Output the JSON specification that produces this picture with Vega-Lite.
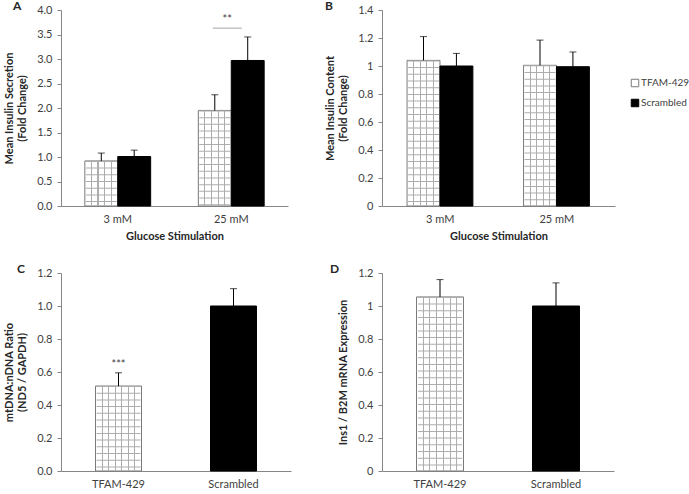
{
  "$schema": "https://vega.github.io/schema/vega-lite/v6.json",
  "padding": {"left": 3, "top": 0, "right": 0, "bottom": 0},
  "config": {
    "font": "Lato",
    "view": {"stroke": null},
    "axis": {"domainColor": "#868686", "tickColor": "#868686", "labelColor": "#404040", "labelFontSize": 11, "titleFontSize": 11, "titleFontWeight": "bold", "titleColor": "#262626", "grid": false},
    "axisY": {"tickSize": 4, "labelPadding": 5, "titlePadding": 9, "titleLineHeight": 13},
    "axisX": {"ticks": false, "labelAngle": 0, "labelPadding": 7, "titlePadding": 6},
    "legend": {"labelFontSize": 10, "labelColor": "#404040"},
    "title": {"fontSize": 12, "fontWeight": "bold", "color": "#262626", "anchor": "start", "frame": "group", "offset": -9, "baseline": "alphabetic"}
  },
  "datasets": {
    "A": [
      {"x": "3 mM", "group": "TFAM-429", "value": 0.92, "hi": 1.08},
      {"x": "3 mM", "group": "Scrambled", "value": 1.01, "hi": 1.14},
      {"x": "25 mM", "group": "TFAM-429", "value": 1.95, "hi": 2.27},
      {"x": "25 mM", "group": "Scrambled", "value": 2.97, "hi": 3.45}
    ],
    "B": [
      {"x": "3 mM", "group": "TFAM-429", "value": 1.04, "hi": 1.21},
      {"x": "3 mM", "group": "Scrambled", "value": 1.0, "hi": 1.09},
      {"x": "25 mM", "group": "TFAM-429", "value": 1.005, "hi": 1.185},
      {"x": "25 mM", "group": "Scrambled", "value": 0.995, "hi": 1.1}
    ],
    "C": [
      {"x": "TFAM-429", "group": "TFAM-429", "value": 0.515, "hi": 0.595},
      {"x": "Scrambled", "group": "Scrambled", "value": 1.0, "hi": 1.105}
    ],
    "D": [
      {"x": "TFAM-429", "group": "TFAM-429", "value": 1.055, "hi": 1.16},
      {"x": "Scrambled", "group": "Scrambled", "value": 1.0, "hi": 1.14}
    ],
    "annA": [{"x": "25 mM", "value": 3.63, "label": "**", "ly": 3.79}],
    "annC": [{"x": "TFAM-429", "label": "***", "ly": 0.645}]
  },
  "columns": 2,
  "spacing": {"row": 22, "column": 33},
  "resolve": {"scale": {"fill": "independent", "stroke": "independent"}, "legend": {"fill": "independent", "stroke": "independent"}},
  "concat": [
    {
      "width": 227, "height": 196,
      "title": {"text": "A", "dx": -48},
      "data": {"name": "A"},
      "encoding": {
        "x": {"field": "x", "type": "nominal", "scale": {"domain": ["3 mM", "25 mM"], "paddingInner": 0.42, "paddingOuter": 0.21}, "axis": {"title": "Glucose Stimulation"}},
        "y": {"field": "value", "type": "quantitative", "scale": {"domain": [0, 4], "nice": false}, "axis": {"title": ["Mean Insulin Secretion", "(Fold Change)"], "values": [0, 0.5, 1, 1.5, 2, 2.5, 3, 3.5, 4], "format": ".1f"}}
      },
      "layer": [
        {"mark": {"type": "bar", "strokeWidth": 1},
         "encoding": {
           "xOffset": {"field": "group", "type": "nominal", "scale": {"domain": ["TFAM-429", "Scrambled"], "paddingInner": 0, "paddingOuter": 0}},
           "fill": {"field": "group", "type": "nominal", "scale": {"domain": ["TFAM-429", "Scrambled"], "range": ["white", "black"]}, "legend": null},
           "stroke": {"field": "group", "type": "nominal", "scale": {"domain": ["TFAM-429", "Scrambled"], "range": ["#7a7a7a", "black"]}, "legend": null}}},
        {"transform": [{"filter": "datum.group === 'TFAM-429'"}],
         "mark": {"type": "bar", "stroke": null, "fill": {"gradient": "linear", "x1": 0, "y1": 0, "x2": 1, "y2": 0, "stops": [
           {"offset": 0, "color": "rgba(255,255,255,0)"},
           {"offset": 0.184, "color": "rgba(255,255,255,0)"}, {"offset": 0.184, "color": "#adadad"}, {"offset": 0.216, "color": "#adadad"}, {"offset": 0.216, "color": "rgba(255,255,255,0)"},
           {"offset": 0.384, "color": "rgba(255,255,255,0)"}, {"offset": 0.384, "color": "#adadad"}, {"offset": 0.416, "color": "#adadad"}, {"offset": 0.416, "color": "rgba(255,255,255,0)"},
           {"offset": 0.584, "color": "rgba(255,255,255,0)"}, {"offset": 0.584, "color": "#adadad"}, {"offset": 0.616, "color": "#adadad"}, {"offset": 0.616, "color": "rgba(255,255,255,0)"},
           {"offset": 0.784, "color": "rgba(255,255,255,0)"}, {"offset": 0.784, "color": "#adadad"}, {"offset": 0.816, "color": "#adadad"}, {"offset": 0.816, "color": "rgba(255,255,255,0)"},
           {"offset": 1, "color": "rgba(255,255,255,0)"}]}},
         "encoding": {"xOffset": {"field": "group", "type": "nominal", "scale": {"domain": ["TFAM-429", "Scrambled"], "paddingInner": 0, "paddingOuter": 0}}}},
        {"transform": [{"filter": "datum.group === 'TFAM-429'"}],
         "mark": {"type": "rule", "strokeWidth": 31, "strokeDash": [1, 5.7], "color": "#adadad"},
         "encoding": {"xOffset": {"field": "group", "type": "nominal", "scale": {"domain": ["TFAM-429", "Scrambled"], "paddingInner": 0, "paddingOuter": 0}}, "y2": {"datum": 0}}},
        {"mark": {"type": "rule", "color": "black", "strokeWidth": 1},
         "encoding": {"xOffset": {"field": "group", "type": "nominal", "scale": {"domain": ["TFAM-429", "Scrambled"], "paddingInner": 0, "paddingOuter": 0}}, "y2": {"field": "hi"}}},
        {"mark": {"type": "tick", "color": "black", "thickness": 1, "size": 7},
         "encoding": {"xOffset": {"field": "group", "type": "nominal", "scale": {"domain": ["TFAM-429", "Scrambled"], "paddingInner": 0, "paddingOuter": 0}}, "y": {"field": "hi", "type": "quantitative"}}},
        {"data": {"name": "annA"}, "mark": {"type": "tick", "size": 29, "thickness": 1, "color": "#7f7f7f", "xOffset": -4}},
        {"data": {"name": "annA"}, "mark": {"type": "text", "fontSize": 11, "color": "#404040", "dx": -4, "baseline": "middle"},
         "encoding": {"y": {"field": "ly", "type": "quantitative"}, "text": {"field": "label"}}}
      ]
    },
    {
      "width": 233, "height": 196,
      "title": {"text": "B", "dx": -57},
      "data": {"name": "B"},
      "encoding": {
        "x": {"field": "x", "type": "nominal", "scale": {"domain": ["3 mM", "25 mM"], "paddingInner": 0.43, "paddingOuter": 0.215}, "axis": {"title": "Glucose Stimulation"}},
        "y": {"field": "value", "type": "quantitative", "scale": {"domain": [0, 1.4], "nice": false}, "axis": {"title": ["Mean Insulin Content", "(Fold Change)"], "values": [0, 0.2, 0.4, 0.6, 0.8, 1, 1.2, 1.4], "format": "~g"}}
      },
      "layer": [
        {"mark": {"type": "bar", "strokeWidth": 1},
         "encoding": {
           "xOffset": {"field": "group", "type": "nominal", "scale": {"domain": ["TFAM-429", "Scrambled"], "paddingInner": 0, "paddingOuter": 0}},
           "fill": {"field": "group", "type": "nominal", "scale": {"domain": ["TFAM-429", "Scrambled"], "range": ["white", "black"]},
             "legend": {"orient": "none", "legendX": 248, "legendY": 68, "title": null, "symbolType": "square", "symbolSize": 56, "symbolStrokeColor": "#555555", "symbolStrokeWidth": 1, "rowPadding": 8, "labelOffset": 1}},
           "stroke": {"field": "group", "type": "nominal", "scale": {"domain": ["TFAM-429", "Scrambled"], "range": ["#7a7a7a", "black"]}, "legend": null}}},
        {"transform": [{"filter": "datum.group === 'TFAM-429'"}],
         "mark": {"type": "bar", "stroke": null, "fill": {"gradient": "linear", "x1": 0, "y1": 0, "x2": 1, "y2": 0, "stops": [
           {"offset": 0, "color": "rgba(255,255,255,0)"},
           {"offset": 0.184, "color": "rgba(255,255,255,0)"}, {"offset": 0.184, "color": "#adadad"}, {"offset": 0.216, "color": "#adadad"}, {"offset": 0.216, "color": "rgba(255,255,255,0)"},
           {"offset": 0.384, "color": "rgba(255,255,255,0)"}, {"offset": 0.384, "color": "#adadad"}, {"offset": 0.416, "color": "#adadad"}, {"offset": 0.416, "color": "rgba(255,255,255,0)"},
           {"offset": 0.584, "color": "rgba(255,255,255,0)"}, {"offset": 0.584, "color": "#adadad"}, {"offset": 0.616, "color": "#adadad"}, {"offset": 0.616, "color": "rgba(255,255,255,0)"},
           {"offset": 0.784, "color": "rgba(255,255,255,0)"}, {"offset": 0.784, "color": "#adadad"}, {"offset": 0.816, "color": "#adadad"}, {"offset": 0.816, "color": "rgba(255,255,255,0)"},
           {"offset": 1, "color": "rgba(255,255,255,0)"}]}},
         "encoding": {"xOffset": {"field": "group", "type": "nominal", "scale": {"domain": ["TFAM-429", "Scrambled"], "paddingInner": 0, "paddingOuter": 0}}}},
        {"transform": [{"filter": "datum.group === 'TFAM-429'"}],
         "mark": {"type": "rule", "strokeWidth": 31, "strokeDash": [1, 5.7], "color": "#adadad"},
         "encoding": {"xOffset": {"field": "group", "type": "nominal", "scale": {"domain": ["TFAM-429", "Scrambled"], "paddingInner": 0, "paddingOuter": 0}}, "y2": {"datum": 0}}},
        {"mark": {"type": "rule", "color": "black", "strokeWidth": 1},
         "encoding": {"xOffset": {"field": "group", "type": "nominal", "scale": {"domain": ["TFAM-429", "Scrambled"], "paddingInner": 0, "paddingOuter": 0}}, "y2": {"field": "hi"}}},
        {"mark": {"type": "tick", "color": "black", "thickness": 1, "size": 7},
         "encoding": {"xOffset": {"field": "group", "type": "nominal", "scale": {"domain": ["TFAM-429", "Scrambled"], "paddingInner": 0, "paddingOuter": 0}}, "y": {"field": "hi", "type": "quantitative"}}}
      ]
    },
    {
      "width": 230, "height": 198,
      "title": {"text": "C", "dx": -44},
      "data": {"name": "C"},
      "encoding": {
        "x": {"field": "x", "type": "nominal", "scale": {"domain": ["TFAM-429", "Scrambled"], "paddingInner": 0.6, "paddingOuter": 0.3}, "axis": {"title": null}},
        "y": {"field": "value", "type": "quantitative", "scale": {"domain": [0, 1.2], "nice": false}, "axis": {"title": ["mtDNA:nDNA Ratio", "(ND5 / GAPDH)"], "values": [0, 0.2, 0.4, 0.6, 0.8, 1, 1.2], "format": ".1f"}}
      },
      "layer": [
        {"mark": {"type": "bar", "strokeWidth": 1},
         "encoding": {
           "fill": {"field": "group", "type": "nominal", "scale": {"domain": ["TFAM-429", "Scrambled"], "range": ["white", "black"]}, "legend": null},
           "stroke": {"field": "group", "type": "nominal", "scale": {"domain": ["TFAM-429", "Scrambled"], "range": ["#7a7a7a", "black"]}, "legend": null}}},
        {"transform": [{"filter": "datum.group === 'TFAM-429'"}],
         "mark": {"type": "bar", "stroke": null, "fill": {"gradient": "linear", "x1": 0, "y1": 0, "x2": 1, "y2": 0, "stops": [
           {"offset": 0, "color": "rgba(255,255,255,0)"},
           {"offset": 0.132, "color": "rgba(255,255,255,0)"}, {"offset": 0.132, "color": "#adadad"}, {"offset": 0.154, "color": "#adadad"}, {"offset": 0.154, "color": "rgba(255,255,255,0)"},
           {"offset": 0.275, "color": "rgba(255,255,255,0)"}, {"offset": 0.275, "color": "#adadad"}, {"offset": 0.297, "color": "#adadad"}, {"offset": 0.297, "color": "rgba(255,255,255,0)"},
           {"offset": 0.418, "color": "rgba(255,255,255,0)"}, {"offset": 0.418, "color": "#adadad"}, {"offset": 0.44, "color": "#adadad"}, {"offset": 0.44, "color": "rgba(255,255,255,0)"},
           {"offset": 0.561, "color": "rgba(255,255,255,0)"}, {"offset": 0.561, "color": "#adadad"}, {"offset": 0.583, "color": "#adadad"}, {"offset": 0.583, "color": "rgba(255,255,255,0)"},
           {"offset": 0.703, "color": "rgba(255,255,255,0)"}, {"offset": 0.703, "color": "#adadad"}, {"offset": 0.725, "color": "#adadad"}, {"offset": 0.725, "color": "rgba(255,255,255,0)"},
           {"offset": 0.846, "color": "rgba(255,255,255,0)"}, {"offset": 0.846, "color": "#adadad"}, {"offset": 0.868, "color": "#adadad"}, {"offset": 0.868, "color": "rgba(255,255,255,0)"},
           {"offset": 1, "color": "rgba(255,255,255,0)"}]}}},
        {"transform": [{"filter": "datum.group === 'TFAM-429'"}],
         "mark": {"type": "rule", "strokeWidth": 44, "strokeDash": [1, 5.7], "color": "#adadad"},
         "encoding": {"y2": {"datum": 0}}},
        {"mark": {"type": "rule", "color": "black", "strokeWidth": 1},
         "encoding": {"y2": {"field": "hi"}}},
        {"mark": {"type": "tick", "color": "black", "thickness": 1, "size": 7},
         "encoding": {"y": {"field": "hi", "type": "quantitative"}}},
        {"data": {"name": "annC"}, "mark": {"type": "text", "fontSize": 11, "color": "#404040", "baseline": "middle"},
         "encoding": {"y": {"field": "ly", "type": "quantitative"}, "text": {"field": "label"}}}
      ]
    },
    {
      "width": 232, "height": 198,
      "title": {"text": "D", "dx": -52},
      "data": {"name": "D"},
      "encoding": {
        "x": {"field": "x", "type": "nominal", "scale": {"domain": ["TFAM-429", "Scrambled"], "paddingInner": 0.595, "paddingOuter": 0.2975}, "axis": {"title": null}},
        "y": {"field": "value", "type": "quantitative", "scale": {"domain": [0, 1.2], "nice": false}, "axis": {"title": "Ins1 / B2M mRNA Expression", "values": [0, 0.2, 0.4, 0.6, 0.8, 1, 1.2], "format": "~g"}}
      },
      "layer": [
        {"mark": {"type": "bar", "strokeWidth": 1},
         "encoding": {
           "fill": {"field": "group", "type": "nominal", "scale": {"domain": ["TFAM-429", "Scrambled"], "range": ["white", "black"]}, "legend": null},
           "stroke": {"field": "group", "type": "nominal", "scale": {"domain": ["TFAM-429", "Scrambled"], "range": ["#7a7a7a", "black"]}, "legend": null}}},
        {"transform": [{"filter": "datum.group === 'TFAM-429'"}],
         "mark": {"type": "bar", "stroke": null, "fill": {"gradient": "linear", "x1": 0, "y1": 0, "x2": 1, "y2": 0, "stops": [
           {"offset": 0, "color": "rgba(255,255,255,0)"},
           {"offset": 0.132, "color": "rgba(255,255,255,0)"}, {"offset": 0.132, "color": "#adadad"}, {"offset": 0.154, "color": "#adadad"}, {"offset": 0.154, "color": "rgba(255,255,255,0)"},
           {"offset": 0.275, "color": "rgba(255,255,255,0)"}, {"offset": 0.275, "color": "#adadad"}, {"offset": 0.297, "color": "#adadad"}, {"offset": 0.297, "color": "rgba(255,255,255,0)"},
           {"offset": 0.418, "color": "rgba(255,255,255,0)"}, {"offset": 0.418, "color": "#adadad"}, {"offset": 0.44, "color": "#adadad"}, {"offset": 0.44, "color": "rgba(255,255,255,0)"},
           {"offset": 0.561, "color": "rgba(255,255,255,0)"}, {"offset": 0.561, "color": "#adadad"}, {"offset": 0.583, "color": "#adadad"}, {"offset": 0.583, "color": "rgba(255,255,255,0)"},
           {"offset": 0.703, "color": "rgba(255,255,255,0)"}, {"offset": 0.703, "color": "#adadad"}, {"offset": 0.725, "color": "#adadad"}, {"offset": 0.725, "color": "rgba(255,255,255,0)"},
           {"offset": 0.846, "color": "rgba(255,255,255,0)"}, {"offset": 0.846, "color": "#adadad"}, {"offset": 0.868, "color": "#adadad"}, {"offset": 0.868, "color": "rgba(255,255,255,0)"},
           {"offset": 1, "color": "rgba(255,255,255,0)"}]}}},
        {"transform": [{"filter": "datum.group === 'TFAM-429'"}],
         "mark": {"type": "rule", "strokeWidth": 44, "strokeDash": [1, 5.7], "color": "#adadad"},
         "encoding": {"y2": {"datum": 0}}},
        {"mark": {"type": "rule", "color": "black", "strokeWidth": 1},
         "encoding": {"y2": {"field": "hi"}}},
        {"mark": {"type": "tick", "color": "black", "thickness": 1, "size": 7},
         "encoding": {"y": {"field": "hi", "type": "quantitative"}}}
      ]
    }
  ]
}
